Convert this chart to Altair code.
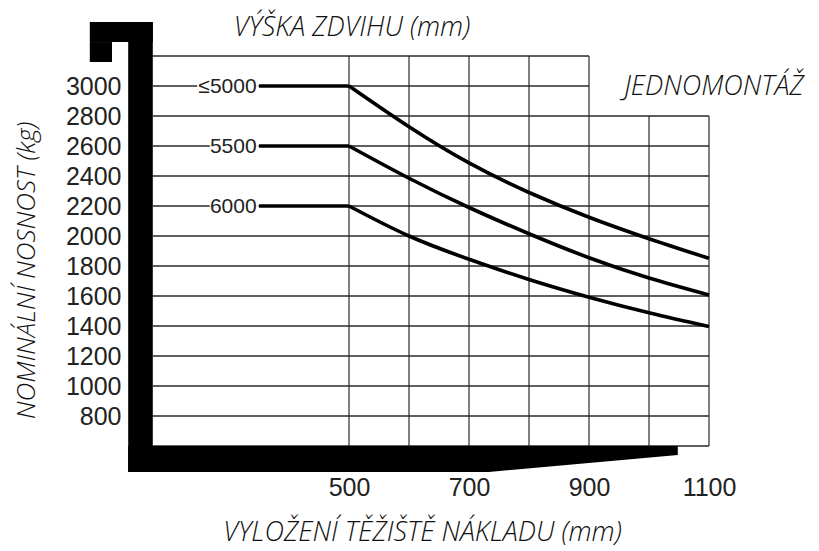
import altair as alt
import pandas as pd

# ---- data ----
reach = [500, 600, 700, 800, 900, 1000, 1100]          # load centre (mm)
cap_le5000 = [3000, 2728, 2487, 2290, 2125, 1982, 1851]  # kg
cap_5500 = [2600, 2385, 2190, 2015, 1855, 1720, 1607]
cap_6000 = [2200, 2000, 1845, 1710, 1592, 1488, 1396]

lift_labels = ["≤5000", "5500", "6000"]
lift_caps = [3000, 2600, 2200]
label_left = [247, 268, 268]
label_right = 346
flat_start = 350

y_ticks = list(range(800, 3001, 200))
x_ticks = [500, 700, 900, 1100]

h_lines_y = list(range(600, 3201, 200))
h_lines_end = [1100 if v <= 2800 else 900 for v in h_lines_y]
h_lines_start = 173
v_lines_x = [500, 600, 700, 800, 900, 1000, 1100]
v_lines_top = [3200 if v <= 900 else 2800 for v in v_lines_x]
v_lines_bottom = 600

# forklift silhouette (mast, hook, fork) in chart units
frame_x = [132, 68, 68]
frame_x2 = [173, 173, 105]
frame_y = [427, 3293, 3160]
frame_y2 = [3427, 3427, 3293]
fork_x = [132, 733, 1048]
fork_lo = [427, 427, 540]
fork_hi = [600, 600, 600]

# ---- tables ----
curves = pd.DataFrame({
    "x": reach * 3,
    "y": cap_le5000 + cap_5500 + cap_6000,
    "series": [lift_labels[0]] * 7 + [lift_labels[1]] * 7 + [lift_labels[2]] * 7,
})
flats = pd.DataFrame({"x": [flat_start] * 3, "x2": [reach[0]] * 3, "y": lift_caps})
labels = pd.DataFrame({"x": label_left, "x2": [label_right + 3] * 3,
                       "xt": [label_right] * 3, "y": lift_caps,
                       "ylo": [c - 75 for c in lift_caps], "yhi": [c + 75 for c in lift_caps],
                       "t": lift_labels})
hl = pd.DataFrame({"y": h_lines_y, "x": [h_lines_start] * len(h_lines_y), "x2": h_lines_end})
vl = pd.DataFrame({"x": v_lines_x, "y": [v_lines_bottom] * len(v_lines_x), "y2": v_lines_top})
frame = pd.DataFrame({"x": frame_x, "x2": frame_x2, "y": frame_y, "y2": frame_y2})
fork = pd.DataFrame({"x": fork_x, "y": fork_lo, "y2": fork_hi})

xs = alt.Scale(domain=[130, 1130], nice=False, zero=False)
ys = alt.Scale(domain=[380, 3480], nice=False, zero=False)

TITLE_FONT = "Open Sans"
TITLE_SIZE = 27
X_TITLE = "VYLOŽENÍ TĚŽIŠTĚ NÁKLADU (mm)"
Y_TITLE = "NOMINÁLNÍ NOSNOST (kg)"

x_axis = alt.Axis(values=x_ticks, grid=False, domain=False, ticks=False, format="d",
                  labelFont="Liberation Sans", labelFontSize=25, labelColor="#222",
                  labelBaseline="middle", labelPadding=8,
                  title=X_TITLE, titleFont=TITLE_FONT,
                  titleFontSize=TITLE_SIZE, titleFontStyle="italic", titleFontWeight=300,
                  titleColor="#111", titleX=295, titleY=53, titleBaseline="middle",
                  titleAlign="center")
y_axis = alt.Axis(values=y_ticks, grid=False, domain=False, ticks=False, format="d",
                  labelFont="Liberation Sans", labelFontSize=25, labelColor="#222",
                  labelPadding=6,
                  title=Y_TITLE, titleFont=TITLE_FONT,
                  titleFontSize=26, titleFontStyle="italic", titleFontWeight=300,
                  titleColor="#111", titleX=-101, titleY=256, titleAngle=270,
                  titleBaseline="middle", titleAlign="center")


def X(field):
    return alt.X(field, scale=xs, axis=x_axis, title=X_TITLE)


def Y(field):
    return alt.Y(field, scale=ys, axis=y_axis, title=Y_TITLE)


grid_color = "#2a2a2a"

h_rules = alt.Chart(hl).mark_rule(color=grid_color, strokeWidth=1.3).encode(
    x=X("x:Q"), x2="x2:Q", y=Y("y:Q"))
v_rules = alt.Chart(vl).mark_rule(color=grid_color, strokeWidth=1.2).encode(
    x=X("x:Q"), y=Y("y:Q"), y2="y2:Q")

boxes = alt.Chart(labels).mark_rect(color="white").encode(
    x=X("x:Q"), x2="x2:Q", y=Y("ylo:Q"), y2="yhi:Q")
texts = alt.Chart(labels).mark_text(align="right", baseline="middle",
                                    font="Liberation Sans", fontSize=21,
                                    color="#222", dy=1).encode(
    x=X("xt:Q"), y=Y("y:Q"), text="t:N")

flat_lines = alt.Chart(flats).mark_rule(color="black", strokeWidth=3.6).encode(
    x=X("x:Q"), x2="x2:Q", y=Y("y:Q"))
curve_lines = alt.Chart(curves).mark_line(color="black", strokeWidth=3.6,
                                          interpolate="natural").encode(
    x=X("x:Q"), y=Y("y:Q"), detail="series:N")

frame_rects = alt.Chart(frame).mark_rect(color="black").encode(
    x=X("x:Q"), x2="x2:Q", y=Y("y:Q"), y2="y2:Q")
fork_area = alt.Chart(fork).mark_area(color="black", interpolate="linear").encode(
    x=X("x:Q"), y=Y("y:Q"), y2="y2:Q")

top_title = alt.Chart(pd.DataFrame({"t": ["VÝŠKA ZDVIHU (mm)"]})).mark_text(
    font=TITLE_FONT, fontSize=TITLE_SIZE, fontStyle="italic", fontWeight=300, color="#111",
    align="center", baseline="middle").encode(
    x=alt.value(225), y=alt.value(14), text="t:N")
mode_title = alt.Chart(pd.DataFrame({"t": ["JEDNOMONTÁŽ"]})).mark_text(
    font=TITLE_FONT, fontSize=TITLE_SIZE, fontStyle="italic", fontWeight=300, color="#111",
    align="center", baseline="middle").encode(
    x=alt.value(587), y=alt.value(73), text="t:N")

chart = alt.layer(
    h_rules, v_rules, boxes, texts, flat_lines, curve_lines,
    frame_rects, fork_area, top_title, mode_title
).properties(
    width=600, height=465,
    background="white",
    padding={"left": 119, "top": 6, "right": 84, "bottom": 72},
    autosize=alt.AutoSizeParams(type="none"),
).configure_view(strokeWidth=0, stroke="transparent")

chart.save("out.html", embed_options={"renderer": "svg", "actions": False})
